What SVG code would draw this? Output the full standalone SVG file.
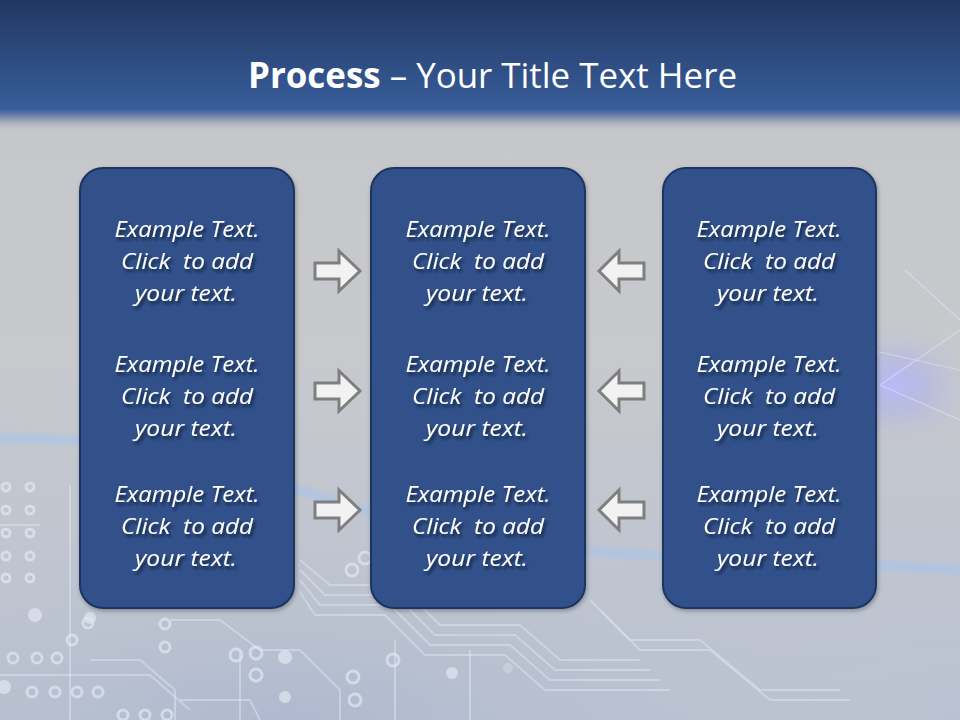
<svg xmlns="http://www.w3.org/2000/svg" width="960" height="720" viewBox="0 0 960 720">
<defs>
<linearGradient id="bg" x1="0" y1="0" x2="0" y2="1">
<stop offset="0" stop-color="#c4c6ca"/>
<stop offset="0.5" stop-color="#c7c9cd"/>
<stop offset="0.75" stop-color="#c0c5cf"/>
<stop offset="1" stop-color="#bac2d2"/>
</linearGradient>
<linearGradient id="hdr" x1="0" y1="0" x2="0" y2="1">
<stop offset="0" stop-color="#213762"/>
<stop offset="0.8" stop-color="#375c98"/>
<stop offset="0.83" stop-color="#3a5e99"/>
<stop offset="0.9" stop-color="#8a96b0"/>
<stop offset="1" stop-color="#c4c6ca" stop-opacity="0"/>
</linearGradient>
<radialGradient id="glow" cx="0.5" cy="0.5" r="0.5">
<stop offset="0" stop-color="#b7b8ff" stop-opacity="0.9"/>
<stop offset="0.4" stop-color="#a9aef0" stop-opacity="0.4"/>
<stop offset="1" stop-color="#c7c9cd" stop-opacity="0"/>
</radialGradient>
<radialGradient id="lowblue" cx="0.3" cy="1" r="0.7">
<stop offset="0" stop-color="#a9b6cf" stop-opacity="0.7"/>
<stop offset="1" stop-color="#c7c9cd" stop-opacity="0"/>
</radialGradient>
<filter id="ts" x="-10%" y="-30%" width="130%" height="170%">
<feDropShadow dx="2" dy="3" stdDeviation="1.6" flood-color="#0b1730" flood-opacity="0.8"/>
</filter>
<filter id="bs" x="-10%" y="-10%" width="120%" height="120%">
<feDropShadow dx="1" dy="2" stdDeviation="2" flood-color="#000" flood-opacity="0.3"/>
</filter>
<filter id="blur4"><feGaussianBlur stdDeviation="1.5"/></filter>
</defs>
<style>
.box{fill:#30518a;stroke:#1d3560;stroke-width:2}
.t{font-family:"Open Sans","Noto Sans","Liberation Sans",sans-serif;font-style:italic;font-size:21px;fill:#ffffff;text-anchor:middle;white-space:pre}
.arr{fill:#f2f2f2;stroke:#7f7f7f;stroke-width:3;stroke-linejoin:miter}
.tr{fill:none;stroke:#dde6f3;stroke-width:2;opacity:0.5}
.pad{fill:none;stroke:#e4ebf6;stroke-width:3;opacity:0.65}
.padf{fill:#e4ebf6;opacity:0.65}
</style>
<g id="background">
<rect x="0" y="0" width="960" height="720" fill="url(#bg)"/>
<rect x="0" y="380" width="960" height="340" fill="url(#lowblue)"/>
<ellipse cx="895" cy="385" rx="90" ry="70" fill="url(#glow)"/>
<g stroke="#e6e8ff" stroke-width="1.2" opacity="0.5">
<line x1="880" y1="385" x2="960" y2="330"/>
<line x1="880" y1="385" x2="960" y2="420"/>
<line x1="870" y1="350" x2="960" y2="370"/>
<line x1="905" y1="270" x2="960" y2="320"/>
</g>
<g filter="url(#blur4)">
<path d="M0,438 L70,440 L140,452 L260,478 L330,500 L380,515 L470,540 L560,548 L700,560 L880,565 L960,570" fill="none" stroke="#a9c4ea" stroke-width="10" opacity="0.6"/>
</g>
<g class="circuit">
<path class="tr" d="M70,485 L70,720"/>
<path class="tr" d="M0,525 L40,525"/>
<path class="tr" d="M90,660 L140,660 L175,690 L175,720"/>
<path class="tr" d="M0,675 L150,675 L190,710"/>
<path class="tr" d="M300,560 L330,585 L400,585 L440,625 L520,625 L560,660 L640,660"/>
<path class="tr" d="M300,570 L325,595 L395,595 L435,635 L515,635 L555,670 L650,670"/>
<path class="tr" d="M300,580 L320,605 L390,605 L430,645 L510,645 L550,680 L660,680"/>
<path class="tr" d="M300,592 L315,615 L385,615 L425,655 L505,655 L545,690 L670,690"/>
<path class="tr" d="M170,620 L220,620 L260,650 L300,650 L340,690 L340,720"/>
<path class="tr" d="M180,700 L250,700 L260,720"/>
<path class="tr" d="M590,600 L630,640 L700,640 L760,690 L840,690"/>
<path class="tr" d="M600,610 L640,650 L710,650 L770,700 L850,700"/>
<path class="tr" d="M240,650 L240,720"/>
<path class="tr" d="M395,640 L395,720"/>
<path class="tr" d="M470,650 L470,720"/>
<g class="pad">
<circle cx="6" cy="487" r="4"/><circle cx="30" cy="487" r="4"/>
<circle cx="6" cy="510" r="4"/><circle cx="30" cy="510" r="4"/>
<circle cx="6" cy="533" r="4"/><circle cx="30" cy="533" r="4"/>
<circle cx="6" cy="556" r="4"/><circle cx="30" cy="556" r="4"/>
<circle cx="6" cy="578" r="4"/><circle cx="30" cy="578" r="4"/>
<circle cx="13" cy="658" r="5"/><circle cx="37" cy="658" r="5"/><circle cx="57" cy="658" r="5"/>
<circle cx="32" cy="692" r="5"/><circle cx="55" cy="692" r="5"/><circle cx="77" cy="692" r="5"/><circle cx="98" cy="692" r="5"/>
<circle cx="72" cy="640" r="5"/><circle cx="88" cy="623" r="5"/>
<circle cx="165" cy="624" r="5"/><circle cx="165" cy="647" r="5"/>
<circle cx="236" cy="655" r="6"/><circle cx="256" cy="653" r="6"/><circle cx="256" cy="675" r="6"/>
<circle cx="123" cy="715" r="5"/><circle cx="145" cy="715" r="5"/><circle cx="167" cy="715" r="5"/>
<circle cx="352" cy="570" r="6"/><circle cx="365" cy="558" r="6"/>
<circle cx="353" cy="677" r="6"/><circle cx="355" cy="700" r="6"/>
<circle cx="393" cy="660" r="6"/>
</g>
<g class="padf">
<circle cx="35" cy="615" r="7"/><circle cx="90" cy="618" r="6"/>
<circle cx="4" cy="687" r="7"/><circle cx="285" cy="657" r="7"/>
<circle cx="285" cy="697" r="6"/><circle cx="452" cy="673" r="6"/>
<circle cx="508" cy="668" r="5" opacity="0.5"/>
</g>
</g>
</g>
<g id="header">
<rect x="0" y="0" width="960" height="132" fill="url(#hdr)"/>
<text x="248" y="88" textLength="489" lengthAdjust="spacingAndGlyphs" font-family="'Open Sans','Noto Sans','Liberation Sans',sans-serif" font-size="35" fill="#ffffff"><tspan font-weight="bold">Process</tspan> – Your Title Text Here</text>
</g>
<g id="box-left">
<rect class="box" x="80" y="168" width="214" height="440" rx="23" filter="url(#bs)"/>
<g filter="url(#ts)">
<text class="t" x="187" y="237" textLength="145" lengthAdjust="spacingAndGlyphs">Example Text.</text>
<text class="t" x="187" y="269" textLength="132" lengthAdjust="spacingAndGlyphs">Click  to add</text>
<text class="t" x="186" y="301" textLength="102" lengthAdjust="spacingAndGlyphs">your text.</text>
<text class="t" x="187" y="372" textLength="145" lengthAdjust="spacingAndGlyphs">Example Text.</text>
<text class="t" x="187" y="404" textLength="132" lengthAdjust="spacingAndGlyphs">Click  to add</text>
<text class="t" x="186" y="436" textLength="102" lengthAdjust="spacingAndGlyphs">your text.</text>
<text class="t" x="187" y="502" textLength="145" lengthAdjust="spacingAndGlyphs">Example Text.</text>
<text class="t" x="187" y="534" textLength="132" lengthAdjust="spacingAndGlyphs">Click  to add</text>
<text class="t" x="186" y="566" textLength="102" lengthAdjust="spacingAndGlyphs">your text.</text>
</g>
</g>
<g id="box-middle">
<rect class="box" x="371" y="168" width="214" height="440" rx="23" filter="url(#bs)"/>
<g filter="url(#ts)">
<text class="t" x="478" y="237" textLength="145" lengthAdjust="spacingAndGlyphs">Example Text.</text>
<text class="t" x="478" y="269" textLength="132" lengthAdjust="spacingAndGlyphs">Click  to add</text>
<text class="t" x="477" y="301" textLength="102" lengthAdjust="spacingAndGlyphs">your text.</text>
<text class="t" x="478" y="372" textLength="145" lengthAdjust="spacingAndGlyphs">Example Text.</text>
<text class="t" x="478" y="404" textLength="132" lengthAdjust="spacingAndGlyphs">Click  to add</text>
<text class="t" x="477" y="436" textLength="102" lengthAdjust="spacingAndGlyphs">your text.</text>
<text class="t" x="478" y="502" textLength="145" lengthAdjust="spacingAndGlyphs">Example Text.</text>
<text class="t" x="478" y="534" textLength="132" lengthAdjust="spacingAndGlyphs">Click  to add</text>
<text class="t" x="477" y="566" textLength="102" lengthAdjust="spacingAndGlyphs">your text.</text>
</g>
</g>
<g id="box-right">
<rect class="box" x="663" y="168" width="213" height="440" rx="23" filter="url(#bs)"/>
<g filter="url(#ts)">
<text class="t" x="769" y="237" textLength="145" lengthAdjust="spacingAndGlyphs">Example Text.</text>
<text class="t" x="769" y="269" textLength="132" lengthAdjust="spacingAndGlyphs">Click  to add</text>
<text class="t" x="768" y="301" textLength="102" lengthAdjust="spacingAndGlyphs">your text.</text>
<text class="t" x="769" y="372" textLength="145" lengthAdjust="spacingAndGlyphs">Example Text.</text>
<text class="t" x="769" y="404" textLength="132" lengthAdjust="spacingAndGlyphs">Click  to add</text>
<text class="t" x="768" y="436" textLength="102" lengthAdjust="spacingAndGlyphs">your text.</text>
<text class="t" x="769" y="502" textLength="145" lengthAdjust="spacingAndGlyphs">Example Text.</text>
<text class="t" x="769" y="534" textLength="132" lengthAdjust="spacingAndGlyphs">Click  to add</text>
<text class="t" x="768" y="566" textLength="102" lengthAdjust="spacingAndGlyphs">your text.</text>
</g>
</g>
<g id="connectors">
<path class="arr" d="M315,263 L339,263 L339,251 L360,271 L339,291 L339,279 L315,279 Z"/>
<path class="arr" d="M315,383 L339,383 L339,371 L360,391 L339,411 L339,399 L315,399 Z"/>
<path class="arr" d="M315,502 L339,502 L339,490 L360,510 L339,530 L339,518 L315,518 Z"/>
<path class="arr" d="M644,263 L619,263 L619,251 L599,271 L619,291 L619,279 L644,279 Z"/>
<path class="arr" d="M644,383 L619,383 L619,371 L599,391 L619,411 L619,399 L644,399 Z"/>
<path class="arr" d="M644,502 L619,502 L619,490 L599,510 L619,530 L619,518 L644,518 Z"/>
</g>
</svg>
